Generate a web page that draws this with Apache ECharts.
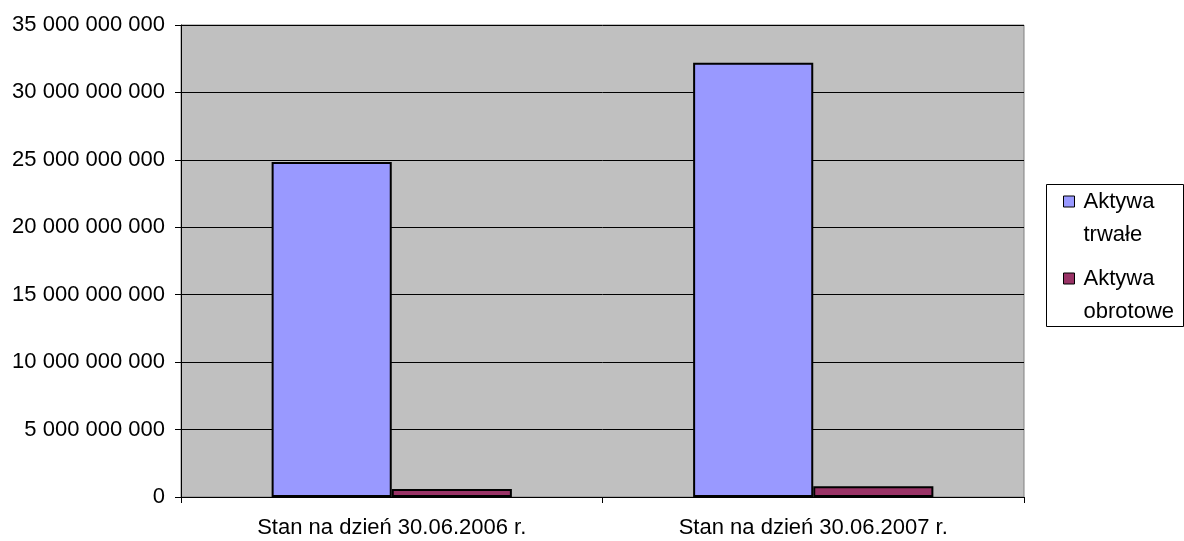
<!DOCTYPE html>
<html><head><meta charset="utf-8">
<script src="https://cdn.jsdelivr.net/npm/echarts@6/dist/echarts.min.js"></script>
<style>html,body{margin:0;padding:0;background:#fff}#c{width:1184px;height:541px}</style>
</head><body><div id="c"></div>
<script>
var categories = ['Stan na dzień 30.06.2006 r.', 'Stan na dzień 30.06.2007 r.'];
var seriesNames = ['Aktywa trwałe', 'Aktywa obrotowe'];
var legendLabels = ['Aktywa\ntrwałe', 'Aktywa\nobrotowe'];
var aktywaTrwale = [24850000000, 32200000000];
var aktywaObrotowe = [600000000, 800000000];
var yTicks = [0, 5000000000, 10000000000, 15000000000, 20000000000, 25000000000, 30000000000, 35000000000];

function fmt(v) { return String(Math.round(v)).replace(/\B(?=(\d{3})+(?!\d))/g, ' '); }
var FONT = '"Liberation Sans", Arial, sans-serif';
var chart = echarts.init(document.getElementById('c'), null, {renderer: 'canvas'});
chart.setOption({
  animation: false,
  backgroundColor: '#ffffff',
  textStyle: {fontFamily: FONT},
  grid: {left: 181, right: 160, top: 25, bottom: 44, show: true, backgroundColor: '#c0c0c0', borderColor: '#808080', borderWidth: 1, containLabel: false},
  graphic: [{type: 'rect', left: 1046, top: 184, z: 0, shape: {width: 137, height: 142}, style: {fill: '#fff', stroke: '#000', lineWidth: 1}}],
  legend: {
    orient: 'vertical', left: 1063, top: 152, padding: 0, itemGap: -22, z: 10,
    itemWidth: 11, itemHeight: 11, icon: 'rect',
    itemStyle: {borderColor: '#000', borderWidth: 1},
    data: seriesNames,
    formatter: function (n) { return '\n' + legendLabels[seriesNames.indexOf(n)]; },
    textStyle: {fontFamily: FONT, fontSize: 22, lineHeight: 33, color: '#000', padding: [0, 0, 0, 4]}
  },
  xAxis: {
    type: 'category', data: categories,
    axisLine: {lineStyle: {color: '#000', width: 1}},
    axisTick: {show: true, length: 6, alignWithLabel: false, lineStyle: {color: '#000'}},
    axisLabel: {color: '#000', fontSize: 22, fontFamily: FONT, margin: 20}
  },
  yAxis: {
    type: 'value', min: yTicks[0], max: yTicks[yTicks.length - 1], interval: yTicks[1] - yTicks[0],
    axisLine: {show: true, lineStyle: {color: '#000', width: 1}},
    axisTick: {show: true, length: 6, lineStyle: {color: '#000'}},
    splitLine: {show: true, lineStyle: {color: '#000', width: 1}},
    axisLabel: {color: '#000', fontSize: 22, fontFamily: FONT, margin: 16, formatter: fmt}
  },
  series: [
    {name: seriesNames[0], type: 'bar', data: aktywaTrwale, barGap: '0%', barCategoryGap: '43%',
     itemStyle: {color: '#9999ff', borderColor: '#000', borderWidth: 2}},
    {name: seriesNames[1], type: 'bar', data: aktywaObrotowe, barGap: '0%', barCategoryGap: '43%',
     itemStyle: {color: '#993366', borderColor: '#000', borderWidth: 2}}
  ]
});
</script></body></html>
